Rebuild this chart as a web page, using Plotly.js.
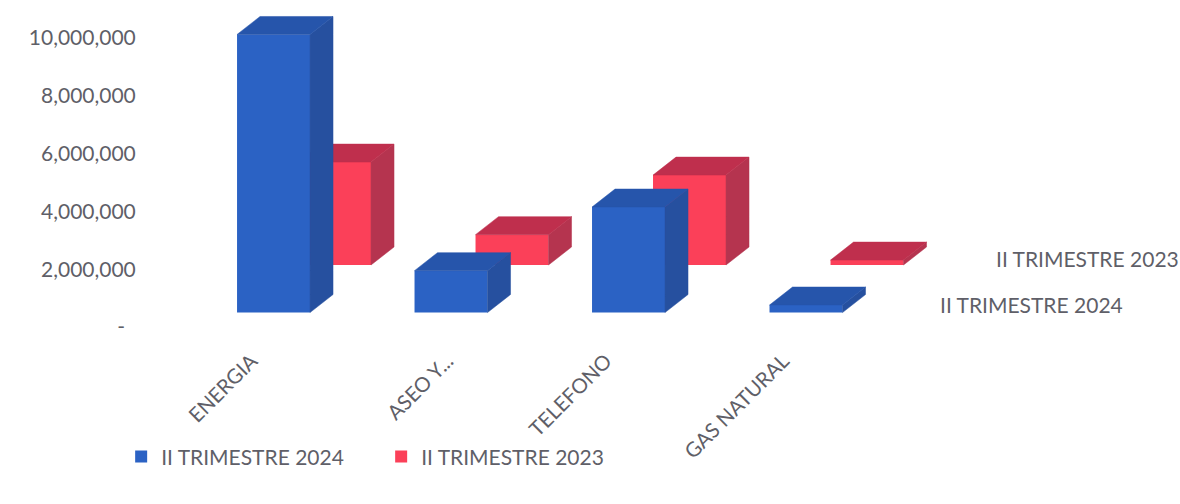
<!DOCTYPE html>
<html><head><meta charset="utf-8">
<script src="https://cdn.plot.ly/plotly-3.0.1.min.js"></script>
<style>html,body{margin:0;padding:0;background:#fff}</style></head>
<body><div id="chart" style="width:1180px;height:504px"></div>
<script>
const categories = ["ENERGIA", "ASEO Y...", "TELEFONO", "GAS NATURAL"];
const series2024Name = "II TRIMESTRE 2024";
const series2023Name = "II TRIMESTRE 2023";
const values2024 = [9620000, 1450000, 3650000, 260000];
const values2023 = [3560000, 1050000, 3110000, 170000];
const yTickVals = [0, 2000000, 4000000, 6000000, 8000000, 10000000];
const yTickText = ["-\u00a0\u00a0", "2,000,000", "4,000,000", "6,000,000", "8,000,000", "10,000,000"];
const labelNudge = [-0.124, 0.98, 1.873, 2.872];

// scale / pseudo-3D projection settings
const pxX = 177.5, unitPerPx = 34602;
const barW = 73 / pxX, depthX = 23 / pxX, depthY = 18 * unitPerPx;
const base2024 = 500000, base2023 = 2145000, shift2023 = 61 / pxX;
const font = "Lato, 'Open Sans', sans-serif", grey = "#5f5f68";

function faces(vals, base, shift) {
  const top = {x: [], y: []}, side = {x: [], y: []};
  vals.forEach((v, i) => {
    const l = i + shift - barW / 2, r = i + shift + barW / 2, t = base + v;
    top.x.push(l, r, r + depthX, l + depthX, l, null);
    top.y.push(t, t, t + depthY, t + depthY, t, null);
    side.x.push(r, r + depthX, r + depthX, r, r, null);
    side.y.push(base, base + depthY, t + depthY, t, base, null);
  });
  return {top, side};
}
function series(name, vals, base, shift, front, sideC, topC, z) {
  const f = faces(vals, base, shift);
  const poly = (p, c, zz) => ({type: "scatter", mode: "lines", x: p.x, y: p.y, fill: "toself", fillcolor: c,
    line: {color: c, width: 0.5}, showlegend: false, hoverinfo: "skip", zorder: zz});
  return [
    {type: "bar", name, x: vals.map((_, i) => i + shift), y: vals, base: vals.map(() => base), width: barW,
     marker: {color: front, line: {width: 0}}, zorder: z, hovertext: categories, hoverinfo: "text+y+name"},
    poly(f.side, sideC, z + 1), poly(f.top, topC, z + 1)
  ];
}
const data = [
  ...series(series2024Name, values2024, base2024, 0, "#2b62c4", "#26509f", "#2655ab", 3),
  ...series(series2023Name, values2023, base2023, shift2023, "#fb4059", "#b5344f", "#bf2f4d", 1)
];
const layout = {
  width: 1180, height: 504, paper_bgcolor: "#fff", plot_bgcolor: "#fff",
  margin: {l: 150, r: 0, t: 5, b: 169}, barmode: "overlay",
  font: {family: font, size: 21, color: grey},
  xaxis: {range: [-0.696, 5.107], showgrid: false, zeroline: false, showline: false,
    tickmode: "array", tickvals: labelNudge, ticktext: categories, tickangle: -45,
    ticks: "outside", ticklen: 5, tickcolor: "rgba(0,0,0,0)",
    tickfont: {family: font, size: 20.5, color: grey}},
  yaxis: {range: [-276800, 11140000], showgrid: false, zeroline: false, showline: false,
    tickmode: "array", tickvals: yTickVals, ticktext: yTickText, ticks: "outside", ticklen: 9, tickcolor: "rgba(0,0,0,0)",
    tickfont: {family: font, size: 21, color: grey}},
  legend: {orientation: "h", xref: "paper", yref: "paper", x: -0.028, y: -0.307, xanchor: "left", yanchor: "top",
    entrywidth: 215, entrywidthmode: "pixels", font: {family: font, size: 21, color: grey}, bgcolor: "rgba(0,0,0,0)"},
  annotations: [
    {xref: "x", yref: "y", x: 4.058, y: 2387000, text: series2023Name, showarrow: false, xanchor: "left", font: {family: font, size: 21, color: grey}},
    {xref: "x", yref: "y", x: 3.743, y: 795000, text: series2024Name, showarrow: false, xanchor: "left", font: {family: font, size: 21, color: grey}}
  ]
};
Plotly.newPlot("chart", data, layout, {displayModeBar: false});
</script></body></html>
